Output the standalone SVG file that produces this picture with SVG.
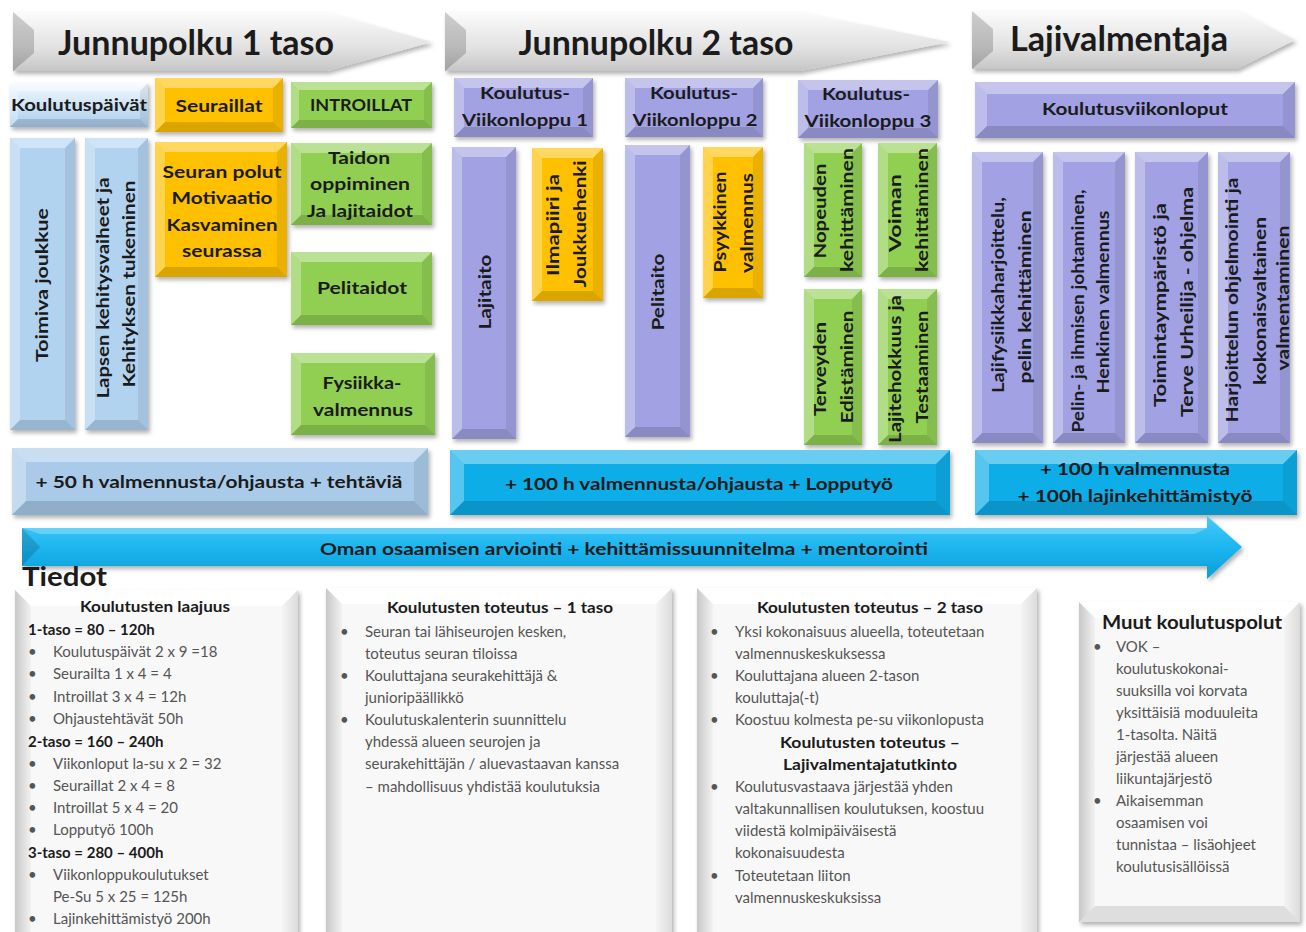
<svg xmlns="http://www.w3.org/2000/svg" width="1306" height="932" viewBox="0 0 1306 932">
<defs>
<style>
.s{filter:url(#sh)}
.lb{fill:#b2d3f0}
.lb2{fill:#a9cbe9}
.gd{fill:#ffc000}
.gr{fill:#91cf53}
.pu{fill:#a1a1e3}
.cy{fill:#0aade8}
.inf{fill:#f8f8f8}
.bt{fill:#fff;fill-opacity:.38}
.bl{fill:#fff;fill-opacity:.3}
.br{fill:#000;fill-opacity:.08}
.bb{fill:#000;fill-opacity:.14}
.ibl{fill:url(#gIL)}
.ibr{fill:url(#gIR)}
.ibb{fill:#000;fill-opacity:.1}
.ibt{fill:#fff;fill-opacity:.9}
text{font-family:Lato,"Open Sans","Liberation Sans",sans-serif}
.L{font-weight:700;fill:#1b1b1b;text-anchor:middle;font-size:17px}
.T{font-weight:700;fill:#1b1b1b;text-anchor:middle;font-size:34px}
.i{font-size:15px;fill:#555}
.ib{font-size:15px;font-weight:700;fill:#1b1b1b}
.ic{text-anchor:middle}
</style>
<filter id="sh" x="-10%" y="-10%" width="125%" height="125%">
<feDropShadow dx="2" dy="3" stdDeviation="2" flood-color="#000" flood-opacity="0.3"/>
</filter>
<linearGradient id="gA" x1="0" y1="0" x2="0" y2="1">
<stop offset="0" stop-color="#fbfbfb"/><stop offset="0.6" stop-color="#e2e2e2"/><stop offset="1" stop-color="#c6c6c6"/>
</linearGradient>
<linearGradient id="gKp" x1="0" y1="0" x2="0" y2="1">
<stop offset="0" stop-color="#f3f9fe"/><stop offset="0.5" stop-color="#cfe4f6"/><stop offset="1" stop-color="#a9cdee"/>
</linearGradient>
<linearGradient id="gBig" x1="0" y1="0" x2="0" y2="1">
<stop offset="0" stop-color="#45cbf8"/><stop offset="0.5" stop-color="#1db5ef"/><stop offset="1" stop-color="#079fd8"/>
</linearGradient>
<linearGradient id="gIL" x1="0" y1="0" x2="1" y2="0">
<stop offset="0" stop-color="#c8c8c8"/><stop offset="1" stop-color="#f2f2f2"/>
</linearGradient>
<linearGradient id="gIR" x1="0" y1="0" x2="1" y2="0">
<stop offset="0" stop-color="#f4f4f4"/><stop offset="1" stop-color="#dcdcdc"/>
</linearGradient>
</defs>

<g id="banner1">
<polygon class="s" fill="url(#gA)" points="13,12 327,12 432,42 327,71 13,71"/>
<polygon fill="#000" fill-opacity=".18" points="13,12 34,30 34,53 13,71"/>
<text class="T" x="196" y="55" textLength="276" lengthAdjust="spacingAndGlyphs">Junnupolku 1 taso</text>
</g>
<g id="banner2">
<polygon class="s" fill="url(#gA)" points="445,12 800,12 950,42 800,71 445,71"/>
<polygon fill="#000" fill-opacity=".18" points="445,12 466,30 466,53 445,71"/>
<text class="T" x="656" y="55" textLength="275" lengthAdjust="spacingAndGlyphs">Junnupolku 2 taso</text>
</g>
<g id="banner3">
<polygon class="s" fill="url(#gA)" points="972,11 1237,11 1295,40 1237,69 972,69"/>
<polygon fill="#000" fill-opacity=".18" points="972,11 993,29 993,51 972,69"/>
<text class="T" x="1119" y="51" textLength="218" lengthAdjust="spacingAndGlyphs">Lajivalmentaja</text>
</g>

<g id="koulutuspaivat">
<rect class="s" fill="url(#gKp)" x="10" y="83" width="138" height="44"/>
<path class="bt" d="M10 83h138l-8 8H18Z"/><path class="bl" d="M10 83l8 8V119l-8 8Z"/><path class="br" d="M148 83v44l-8-8V91Z"/><path class="bb" d="M10 127h138l-8-8H18Z"/>
<text class="L" x="79" y="111" textLength="136" lengthAdjust="spacingAndGlyphs">Koulutuspäivät</text>
</g>
<g id="seuraillat">
<rect class="s gd" x="155" y="78" width="128" height="54"/>
<path class="bt" d="M155 78h128l-10 10H165Z"/><path class="bl" d="M155 78l10 10V122l-10 10Z"/><path class="br" d="M283 78v54l-10-10V88Z"/><path class="bb" d="M155 132h128l-10-10H165Z"/>
<text class="L" x="219" y="112" textLength="87" lengthAdjust="spacingAndGlyphs">Seuraillat</text>
</g>
<g id="introillat">
<rect class="s gr" x="291" y="82" width="141" height="46"/>
<path class="bt" d="M291 82h141l-8 8H299Z"/><path class="bl" d="M291 82l8 8V120l-8 8Z"/><path class="br" d="M432 82v46l-8-8V90Z"/><path class="bb" d="M291 128h141l-8-8H299Z"/>
<text class="L" x="361" y="111" textLength="102" lengthAdjust="spacingAndGlyphs">INTROILLAT</text>
</g>
<g id="vl1">
<rect class="s pu" x="454" y="78" width="139" height="59"/>
<path class="bt" d="M454 78h139l-10 10H464Z"/><path class="bl" d="M454 78l10 10V127l-10 10Z"/><path class="br" d="M593 78v59l-10-10V88Z"/><path class="bb" d="M454 137h139l-10-10H464Z"/>
<text class="L" x="525" y="99" textLength="90" lengthAdjust="spacingAndGlyphs">Koulutus-</text>
<text class="L" x="525" y="126" textLength="126" lengthAdjust="spacingAndGlyphs">Viikonloppu 1</text>
</g>
<g id="vl2">
<rect class="s pu" x="625" y="78" width="138" height="59"/>
<path class="bt" d="M625 78h138l-10 10H635Z"/><path class="bl" d="M625 78l10 10V127l-10 10Z"/><path class="br" d="M763 78v59l-10-10V88Z"/><path class="bb" d="M625 137h138l-10-10H635Z"/>
<text class="L" x="694" y="99" textLength="88" lengthAdjust="spacingAndGlyphs">Koulutus-</text>
<text class="L" x="695" y="126" textLength="125" lengthAdjust="spacingAndGlyphs">Viikonloppu 2</text>
</g>
<g id="vl3">
<rect class="s pu" x="798" y="80" width="140" height="58"/>
<path class="bt" d="M798 80h140l-10 10H808Z"/><path class="bl" d="M798 80l10 10V128l-10 10Z"/><path class="br" d="M938 80v58l-10-10V90Z"/><path class="bb" d="M798 138h140l-10-10H808Z"/>
<text class="L" x="866" y="100" textLength="88" lengthAdjust="spacingAndGlyphs">Koulutus-</text>
<text class="L" x="868" y="127" textLength="127" lengthAdjust="spacingAndGlyphs">Viikonloppu 3</text>
</g>
<g id="koulutusviikonloput">
<rect class="s pu" x="975" y="82" width="320" height="56"/>
<path class="bt" d="M975 82h320l-12 12H987Z"/><path class="bl" d="M975 82l12 12V126l-12 12Z"/><path class="br" d="M1295 82v56l-12-12V94Z"/><path class="bb" d="M975 138h320l-12-12H987Z"/>
<text class="L" x="1135" y="115" textLength="186" lengthAdjust="spacingAndGlyphs">Koulutusviikonloput</text>
</g>

<g id="toimiva">
<rect class="s lb" x="10" y="138" width="65" height="292"/>
<path class="bt" d="M10 138h65l-10 10H20Z"/><path class="bl" d="M10 138l10 10V420l-10 10Z"/><path class="br" d="M75 138v292l-10-10V148Z"/><path class="bb" d="M10 430h65l-10-10H20Z"/>
<text class="L" transform="translate(48,285) rotate(-90)" textLength="154" lengthAdjust="spacingAndGlyphs">Toimiva joukkue</text>
</g>
<g id="lapsen">
<rect class="s lb" x="85" y="138" width="63" height="292"/>
<path class="bt" d="M85 138h63l-10 10H95Z"/><path class="bl" d="M85 138l10 10V420l-10 10Z"/><path class="br" d="M148 138v292l-10-10V148Z"/><path class="bb" d="M85 430h63l-10-10H95Z"/>
<text class="L" transform="translate(109,288) rotate(-90)" textLength="221" lengthAdjust="spacingAndGlyphs">Lapsen kehitysvaiheet ja</text>
<text class="L" transform="translate(135,284) rotate(-90)" textLength="207" lengthAdjust="spacingAndGlyphs">Kehityksen tukeminen</text>
</g>
<g id="seuranpolut">
<rect class="s gd" x="155" y="142" width="132" height="135"/>
<path class="bt" d="M155 142h132l-10 10H165Z"/><path class="bl" d="M155 142l10 10V267l-10 10Z"/><path class="br" d="M287 142v135l-10-10V152Z"/><path class="bb" d="M155 277h132l-10-10H165Z"/>
<text class="L" x="222" y="178" textLength="119" lengthAdjust="spacingAndGlyphs">Seuran polut</text>
<text class="L" x="222" y="204" textLength="101" lengthAdjust="spacingAndGlyphs">Motivaatio</text>
<text class="L" x="222" y="231" textLength="111" lengthAdjust="spacingAndGlyphs">Kasvaminen</text>
<text class="L" x="222" y="257" textLength="80" lengthAdjust="spacingAndGlyphs">seurassa</text>
</g>
<g id="taidon">
<rect class="s gr" x="291" y="143" width="141" height="82"/>
<path class="bt" d="M291 143h141l-10 10H301Z"/><path class="bl" d="M291 143l10 10V215l-10 10Z"/><path class="br" d="M432 143v82l-10-10V153Z"/><path class="bb" d="M291 225h141l-10-10H301Z"/>
<text class="L" x="359" y="164" textLength="62" lengthAdjust="spacingAndGlyphs">Taidon</text>
<text class="L" x="360" y="190" textLength="100" lengthAdjust="spacingAndGlyphs">oppiminen</text>
<text class="L" x="360" y="217" textLength="106" lengthAdjust="spacingAndGlyphs">Ja lajitaidot</text>
</g>
<g id="pelitaidot">
<rect class="s gr" x="291" y="252" width="141" height="73"/>
<path class="bt" d="M291 252h141l-10 10H301Z"/><path class="bl" d="M291 252l10 10V315l-10 10Z"/><path class="br" d="M432 252v73l-10-10V262Z"/><path class="bb" d="M291 325h141l-10-10H301Z"/>
<text class="L" x="362" y="294" textLength="90" lengthAdjust="spacingAndGlyphs">Pelitaidot</text>
</g>
<g id="fysiikka">
<rect class="s gr" x="291" y="353" width="144" height="82"/>
<path class="bt" d="M291 353h144l-10 10H301Z"/><path class="bl" d="M291 353l10 10V425l-10 10Z"/><path class="br" d="M435 353v82l-10-10V363Z"/><path class="bb" d="M291 435h144l-10-10H301Z"/>
<text class="L" x="362" y="389" textLength="79" lengthAdjust="spacingAndGlyphs">Fysiikka-</text>
<text class="L" x="363" y="416" textLength="100" lengthAdjust="spacingAndGlyphs">valmennus</text>
</g>

<g id="lajitaito">
<rect class="s pu" x="452" y="147" width="64" height="292"/>
<path class="bt" d="M452 147h64l-10 10H462Z"/><path class="bl" d="M452 147l10 10V429l-10 10Z"/><path class="br" d="M516 147v292l-10-10V157Z"/><path class="bb" d="M452 439h64l-10-10H462Z"/>
<text class="L" transform="translate(491,292) rotate(-90)" textLength="75" lengthAdjust="spacingAndGlyphs">Lajitaito</text>
</g>
<g id="ilmapiiri">
<rect class="s gd" x="532" y="148" width="71" height="153"/>
<path class="bt" d="M532 148h71l-10 10H542Z"/><path class="bl" d="M532 148l10 10V291l-10 10Z"/><path class="br" d="M603 148v153l-10-10V158Z"/><path class="bb" d="M532 301h71l-10-10H542Z"/>
<text class="L" transform="translate(559,225) rotate(-90)" textLength="102" lengthAdjust="spacingAndGlyphs">Ilmapiiri ja</text>
<text class="L" transform="translate(586,224) rotate(-90)" textLength="127" lengthAdjust="spacingAndGlyphs">Joukkuehenki</text>
</g>
<g id="pelitaito">
<rect class="s pu" x="625" y="145" width="65" height="292"/>
<path class="bt" d="M625 145h65l-10 10H635Z"/><path class="bl" d="M625 145l10 10V427l-10 10Z"/><path class="br" d="M690 145v292l-10-10V155Z"/><path class="bb" d="M625 437h65l-10-10H635Z"/>
<text class="L" transform="translate(664,292) rotate(-90)" textLength="77" lengthAdjust="spacingAndGlyphs">Pelitaito</text>
</g>
<g id="psyykkinen">
<rect class="s gd" x="703" y="147" width="60" height="151"/>
<path class="bt" d="M703 147h60l-10 10H713Z"/><path class="bl" d="M703 147l10 10V288l-10 10Z"/><path class="br" d="M763 147v151l-10-10V157Z"/><path class="bb" d="M703 298h60l-10-10H713Z"/>
<text class="L" transform="translate(726,222) rotate(-90)" textLength="101" lengthAdjust="spacingAndGlyphs">Psyykkinen</text>
<text class="L" transform="translate(753,223) rotate(-90)" textLength="100" lengthAdjust="spacingAndGlyphs">valmennus</text>
</g>
<g id="nopeuden">
<rect class="s gr" x="804" y="143" width="58" height="134"/>
<path class="bt" d="M804 143h58l-10 10H814Z"/><path class="bl" d="M804 143l10 10V267l-10 10Z"/><path class="br" d="M862 143v134l-10-10V153Z"/><path class="bb" d="M804 277h58l-10-10H814Z"/>
<text class="L" transform="translate(826,211) rotate(-90)" textLength="95" lengthAdjust="spacingAndGlyphs">Nopeuden</text>
<text class="L" transform="translate(853,210) rotate(-90)" textLength="124" lengthAdjust="spacingAndGlyphs">kehittäminen</text>
</g>
<g id="voiman">
<rect class="s gr" x="878" y="143" width="59" height="134"/>
<path class="bt" d="M878 143h59l-10 10H888Z"/><path class="bl" d="M878 143l10 10V267l-10 10Z"/><path class="br" d="M937 143v134l-10-10V153Z"/><path class="bb" d="M878 277h59l-10-10H888Z"/>
<text class="L" transform="translate(901,213) rotate(-90)" textLength="78" lengthAdjust="spacingAndGlyphs">Voiman</text>
<text class="L" transform="translate(928,210) rotate(-90)" textLength="124" lengthAdjust="spacingAndGlyphs">kehittäminen</text>
</g>
<g id="terveyden">
<rect class="s gr" x="804" y="289" width="58" height="156"/>
<path class="bt" d="M804 289h58l-10 10H814Z"/><path class="bl" d="M804 289l10 10V435l-10 10Z"/><path class="br" d="M862 289v156l-10-10V299Z"/><path class="bb" d="M804 445h58l-10-10H814Z"/>
<text class="L" transform="translate(826,369) rotate(-90)" textLength="94" lengthAdjust="spacingAndGlyphs">Terveyden</text>
<text class="L" transform="translate(853,367) rotate(-90)" textLength="113" lengthAdjust="spacingAndGlyphs">Edistäminen</text>
</g>
<g id="lajitehokkuus">
<rect class="s gr" x="878" y="289" width="59" height="156"/>
<path class="bt" d="M878 289h59l-10 10H888Z"/><path class="bl" d="M878 289l10 10V435l-10 10Z"/><path class="br" d="M937 289v156l-10-10V299Z"/><path class="bb" d="M878 445h59l-10-10H888Z"/>
<text class="L" transform="translate(901,369) rotate(-90)" textLength="148" lengthAdjust="spacingAndGlyphs">Lajitehokkuus ja</text>
<text class="L" transform="translate(928,367) rotate(-90)" textLength="113" lengthAdjust="spacingAndGlyphs">Testaaminen</text>
</g>

<g id="lajifysiikka">
<rect class="s pu" x="972" y="152" width="71" height="291"/>
<path class="bt" d="M972 152h71l-10 10H982Z"/><path class="bl" d="M972 152l10 10V433l-10 10Z"/><path class="br" d="M1043 152v291l-10-10V162Z"/><path class="bb" d="M972 443h71l-10-10H982Z"/>
<text class="L" transform="translate(1004,295) rotate(-90)" textLength="196" lengthAdjust="spacingAndGlyphs">Lajifysiikkaharjoittelu,</text>
<text class="L" transform="translate(1031,297) rotate(-90)" textLength="173" lengthAdjust="spacingAndGlyphs">pelin kehittäminen</text>
</g>
<g id="pelinjohtaminen">
<rect class="s pu" x="1053" y="152" width="72" height="291"/>
<path class="bt" d="M1053 152h72l-10 10H1063Z"/><path class="bl" d="M1053 152l10 10V433l-10 10Z"/><path class="br" d="M1125 152v291l-10-10V162Z"/><path class="bb" d="M1053 443h72l-10-10H1063Z"/>
<text class="L" transform="translate(1084,311) rotate(-90)" textLength="243" lengthAdjust="spacingAndGlyphs">Pelin- ja ihmisen johtaminen,</text>
<text class="L" transform="translate(1109,302) rotate(-90)" textLength="183" lengthAdjust="spacingAndGlyphs">Henkinen valmennus</text>
</g>
<g id="toimintaymparisto">
<rect class="s pu" x="1135" y="152" width="73" height="291"/>
<path class="bt" d="M1135 152h73l-10 10H1145Z"/><path class="bl" d="M1135 152l10 10V433l-10 10Z"/><path class="br" d="M1208 152v291l-10-10V162Z"/><path class="bb" d="M1135 443h73l-10-10H1145Z"/>
<text class="L" transform="translate(1166,305) rotate(-90)" textLength="204" lengthAdjust="spacingAndGlyphs">Toimintaympäristö ja</text>
<text class="L" transform="translate(1193,302) rotate(-90)" textLength="230" lengthAdjust="spacingAndGlyphs">Terve Urheilija - ohjelma</text>
</g>
<g id="harjoittelun">
<rect class="s pu" x="1218" y="152" width="72" height="291"/>
<path class="bt" d="M1218 152h72l-10 10H1228Z"/><path class="bl" d="M1218 152l10 10V433l-10 10Z"/><path class="br" d="M1290 152v291l-10-10V162Z"/><path class="bb" d="M1218 443h72l-10-10H1228Z"/>
<text class="L" transform="translate(1238,300) rotate(-90)" textLength="245" lengthAdjust="spacingAndGlyphs">Harjoittelun ohjelmointi ja</text>
<text class="L" transform="translate(1266,301) rotate(-90)" textLength="168" lengthAdjust="spacingAndGlyphs">kokonaisvaltainen</text>
<text class="L" transform="translate(1289,298) rotate(-90)" textLength="145" lengthAdjust="spacingAndGlyphs">valmentaminen</text>
</g>

<g id="tunnit1">
<rect class="s lb2" x="12" y="448" width="416" height="67"/>
<path class="bt" d="M12 448h416l-14 14H26Z"/><path class="bl" d="M12 448l14 14V501l-14 14Z"/><path class="br" d="M428 448v67l-14-14V462Z"/><path class="bb" d="M12 515h416l-14-14H26Z"/>
<text class="L" x="219" y="488" textLength="367" lengthAdjust="spacingAndGlyphs">+ 50 h valmennusta/ohjausta + tehtäviä</text>
</g>
<g id="tunnit2">
<rect class="s cy" x="450" y="450" width="500" height="65"/>
<path class="bt" d="M450 450h500l-14 14H464Z"/><path class="bl" d="M450 450l14 14V501l-14 14Z"/><path class="br" d="M950 450v65l-14-14V464Z"/><path class="bb" d="M450 515h500l-14-14H464Z"/>
<text class="L" x="699" y="490" textLength="388" lengthAdjust="spacingAndGlyphs">+ 100 h valmennusta/ohjausta + Lopputyö</text>
</g>
<g id="tunnit3">
<rect class="s cy" x="975" y="450" width="322" height="65"/>
<path class="bt" d="M975 450h322l-14 14H989Z"/><path class="bl" d="M975 450l14 14V501l-14 14Z"/><path class="br" d="M1297 450v65l-14-14V464Z"/><path class="bb" d="M975 515h322l-14-14H989Z"/>
<text class="L" x="1135" y="475" textLength="190" lengthAdjust="spacingAndGlyphs">+ 100 h valmennusta</text>
<text class="L" x="1135" y="502" textLength="235" lengthAdjust="spacingAndGlyphs">+ 100h lajinkehittämistyö</text>
</g>

<g id="arviointi">
<polygon class="s" fill="url(#gBig)" points="22,528 1207,528 1207,516 1242,547 1207,579 1207,566 22,566"/>
<polygon fill="#000" fill-opacity=".15" points="22,528 40,547 22,566"/>
<polygon fill="#fff" fill-opacity=".25" points="22,528 1207,528 1195,534 40,534"/>
<text class="L" x="624" y="555" textLength="608" lengthAdjust="spacingAndGlyphs">Oman osaamisen arviointi + kehittämissuunnitelma + mentorointi</text>
</g>

<g id="connectors"></g>

<g id="tiedot">
<text x="22" y="586" font-size="27" font-weight="700" fill="#1b1b1b" textLength="85" lengthAdjust="spacingAndGlyphs">Tiedot</text>
</g>

<g id="info1">
<rect class="s inf" x="15" y="590" width="283" height="350"/>
<path class="ibt" d="M15 590h283l-16 16H31Z"/><path class="ibl" d="M15 590l16 16V940H15Z"/><path class="ibr" d="M298 590V940h-16V606Z"/>
<text class="ib ic" x="155" y="612" textLength="150" lengthAdjust="spacingAndGlyphs">Koulutusten laajuus</text>
<text class="ib" x="28" y="635">1-taso = 80 – 120h</text>
<text class="i"><tspan x="28" y="657">•</tspan><tspan x="53" y="657">Koulutuspäivät 2 x 9 =18</tspan></text>
<text class="i"><tspan x="28" y="679">•</tspan><tspan x="53" y="679">Seurailta 1 x 4 = 4</tspan></text>
<text class="i"><tspan x="28" y="702">•</tspan><tspan x="53" y="702">Introillat 3 x 4 = 12h</tspan></text>
<text class="i"><tspan x="28" y="724">•</tspan><tspan x="53" y="724">Ohjaustehtävät 50h</tspan></text>
<text class="ib" x="28" y="747">2-taso = 160 – 240h</text>
<text class="i"><tspan x="28" y="769">•</tspan><tspan x="53" y="769">Viikonloput la-su x 2 = 32</tspan></text>
<text class="i"><tspan x="28" y="791">•</tspan><tspan x="53" y="791">Seuraillat 2 x 4 = 8</tspan></text>
<text class="i"><tspan x="28" y="813">•</tspan><tspan x="53" y="813">Introillat 5 x 4 = 20</tspan></text>
<text class="i"><tspan x="28" y="835">•</tspan><tspan x="53" y="835">Lopputyö 100h</tspan></text>
<text class="ib" x="28" y="858">3-taso = 280 – 400h</text>
<text class="i"><tspan x="28" y="880">•</tspan><tspan x="53" y="880">Viikonloppukoulutukset</tspan></text>
<text class="i" x="53" y="902">Pe-Su 5 x 25 = 125h</text>
<text class="i"><tspan x="28" y="924">•</tspan><tspan x="53" y="924">Lajinkehittämistyö 200h</tspan></text>
</g>

<g id="info2">
<rect class="s inf" x="326" y="588" width="346" height="350"/>
<path class="ibt" d="M326 588h346l-16 16H342Z"/><path class="ibl" d="M326 588l16 16V940h-16Z"/><path class="ibr" d="M672 588V940h-16V604Z"/>
<text class="ib ic" x="500" y="613" textLength="226" lengthAdjust="spacingAndGlyphs">Koulutusten toteutus – 1 taso</text>
<text class="i"><tspan x="340" y="637">•</tspan><tspan x="365" y="637">Seuran tai lähiseurojen kesken,</tspan></text>
<text class="i" x="365" y="659">toteutus seuran tiloissa</text>
<text class="i"><tspan x="340" y="681">•</tspan><tspan x="365" y="681">Kouluttajana seurakehittäjä &amp;</tspan></text>
<text class="i" x="365" y="703">junioripäällikkö</text>
<text class="i"><tspan x="340" y="725">•</tspan><tspan x="365" y="725">Koulutuskalenterin suunnittelu</tspan></text>
<text class="i" x="365" y="747">yhdessä alueen seurojen ja</text>
<text class="i" x="365" y="769">seurakehittäjän / aluevastaavan kanssa</text>
<text class="i" x="365" y="792">– mahdollisuus yhdistää koulutuksia</text>
</g>

<g id="info3">
<rect class="s inf" x="697" y="588" width="340" height="350"/>
<path class="ibt" d="M697 588h340l-16 16H713Z"/><path class="ibl" d="M697 588l16 16V940h-16Z"/><path class="ibr" d="M1037 588V940h-16V604Z"/>
<text class="ib ic" x="870" y="613" textLength="226" lengthAdjust="spacingAndGlyphs">Koulutusten toteutus – 2 taso</text>
<text class="i"><tspan x="710" y="637">•</tspan><tspan x="735" y="637">Yksi kokonaisuus alueella, toteutetaan</tspan></text>
<text class="i" x="735" y="659">valmennuskeskuksessa</text>
<text class="i"><tspan x="710" y="681">•</tspan><tspan x="735" y="681">Kouluttajana alueen 2-tason</tspan></text>
<text class="i" x="735" y="703">kouluttaja(-t)</text>
<text class="i"><tspan x="710" y="725">•</tspan><tspan x="735" y="725">Koostuu kolmesta pe-su viikonlopusta</tspan></text>
<text class="ib ic" x="870" y="748" textLength="180" lengthAdjust="spacingAndGlyphs">Koulutusten toteutus –</text>
<text class="ib ic" x="870" y="770" textLength="174" lengthAdjust="spacingAndGlyphs">Lajivalmentajatutkinto</text>
<text class="i"><tspan x="710" y="792">•</tspan><tspan x="735" y="792">Koulutusvastaava järjestää yhden</tspan></text>
<text class="i" x="735" y="814">valtakunnallisen koulutuksen, koostuu</text>
<text class="i" x="735" y="836">viidestä kolmipäiväisestä</text>
<text class="i" x="735" y="858">kokonaisuudesta</text>
<text class="i"><tspan x="710" y="881">•</tspan><tspan x="735" y="881">Toteutetaan liiton</tspan></text>
<text class="i" x="735" y="903">valmennuskeskuksissa</text>
</g>

<g id="info4">
<rect class="s inf" x="1079" y="602" width="221" height="320"/>
<path class="ibt" d="M1079 602h221l-16 16H1095Z"/><path class="ibl" d="M1079 602l16 16V906l-16 16Z"/><path class="ibr" d="M1300 602v320l-16-16V618Z"/><path class="ibb" d="M1079 922h221l-16-16H1095Z"/>
<text class="ib ic" x="1192" y="629" textLength="180" lengthAdjust="spacingAndGlyphs" style="font-size:19px">Muut koulutuspolut</text>
<text class="i"><tspan x="1093" y="652">•</tspan><tspan x="1116" y="652">VOK –</tspan></text>
<text class="i" x="1116" y="674">koulutuskokonai-</text>
<text class="i" x="1116" y="696">suuksilla voi korvata</text>
<text class="i" x="1116" y="718">yksittäisiä moduuleita</text>
<text class="i" x="1116" y="740">1-tasolta. Näitä</text>
<text class="i" x="1116" y="762">järjestää alueen</text>
<text class="i" x="1116" y="784">liikuntajärjestö</text>
<text class="i"><tspan x="1093" y="806">•</tspan><tspan x="1116" y="806">Aikaisemman</tspan></text>
<text class="i" x="1116" y="828">osaamisen voi</text>
<text class="i" x="1116" y="850">tunnistaa – lisäohjeet</text>
<text class="i" x="1116" y="872">koulutusisällöissä</text>
</g>
</svg>
